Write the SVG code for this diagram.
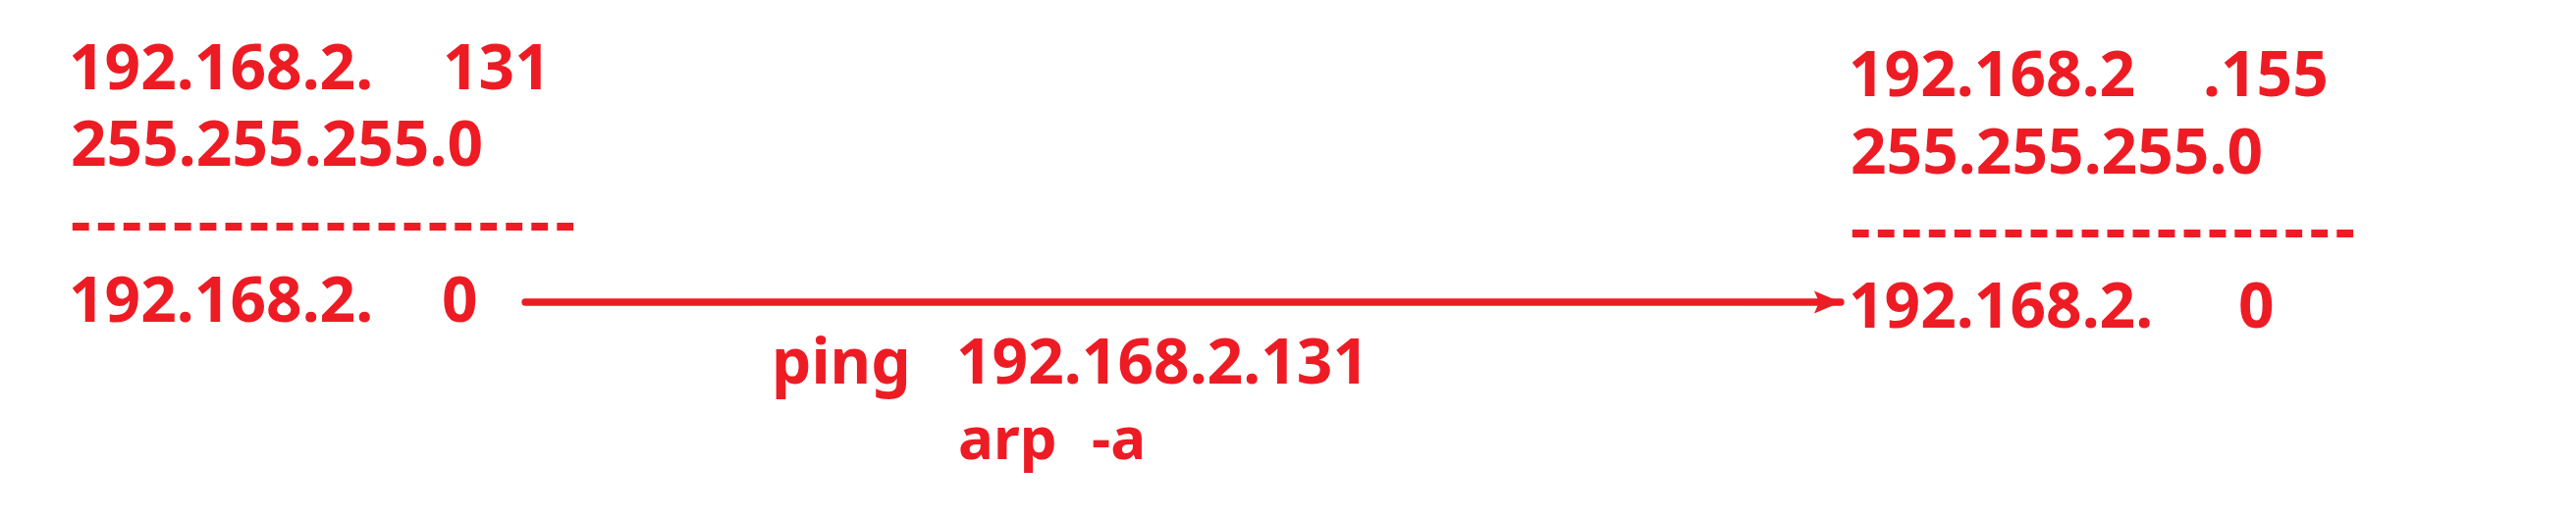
<svg xmlns="http://www.w3.org/2000/svg" width="2624" height="528" viewBox="0 0 2624 528">
  <style>
    .t { font-family: "Noto Sans", "Liberation Sans", sans-serif; font-weight: bold; font-size: 64px; fill: #ED1C24; }
    .s { font-size: 60px; }
    .conn { stroke: #ED1C24; stroke-width: 7.3; stroke-linecap: round; fill: none; }
  </style>
  <defs>
    <marker id="arrow" markerUnits="userSpaceOnUse" markerWidth="30" markerHeight="26" refX="27" refY="12" orient="auto">
      <polygon points="27,12 0,0.5 5,12 0,23.5" fill="#ED1C24"/>
    </marker>
  </defs>
  <rect width="2624" height="528" fill="#ffffff"/>
  <g id="left-block">
    <text class="t" x="70" y="91">192.168.2.<tspan x="451">131</tspan></text>
    <text class="t" x="72" y="169">255.255.255.0</text>
    <text class="t" x="72" y="248" textLength="514" lengthAdjust="spacing">--------------------</text>
    <text class="t" x="70" y="328">192.168.2.<tspan x="450">0</tspan></text>
  </g>
  <g id="right-block">
    <text class="t" x="1883" y="98">192.168.2<tspan x="2244">.155</tspan></text>
    <text class="t" x="1885" y="177">255.255.255.0</text>
    <text class="t" x="1885" y="255" textLength="514" lengthAdjust="spacing">--------------------</text>
    <text class="t" x="1883" y="334">192.168.2.<tspan x="2280">0</tspan></text>
  </g>
  <g id="command-label">
    <text class="t" x="786" y="391">ping<tspan x="974">192.168.2.131</tspan></text>
    <text class="t s" x="976" y="468">arp<tspan x="1112">-a</tspan></text>
  </g>
  <g id="connectors">
    <line class="conn" x1="535" y1="308" x2="1875" y2="308" marker-end="url(#arrow)"/>
  </g>
</svg>
